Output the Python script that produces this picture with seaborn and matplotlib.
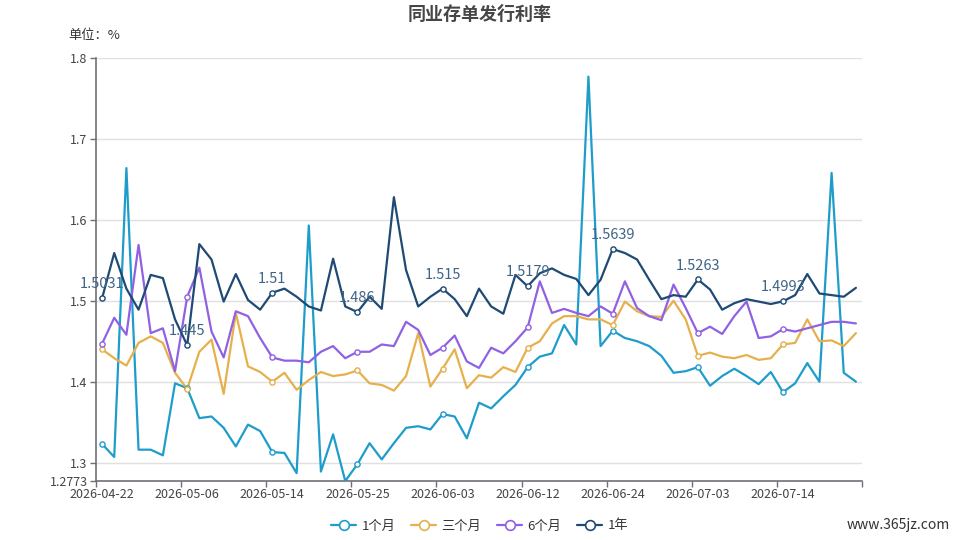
import matplotlib
matplotlib.use("Agg")
import matplotlib.pyplot as plt
from matplotlib.lines import Line2D
import seaborn as sns
import pandas as pd
import numpy as np

dates = [
    "2026-04-22", "2026-04-23", "2026-04-24", "2026-04-27", "2026-04-28", "2026-04-29", "2026-04-30",
    "2026-05-06", "2026-05-07", "2026-05-08", "2026-05-09", "2026-05-11", "2026-05-12", "2026-05-13",
    "2026-05-14", "2026-05-15", "2026-05-18", "2026-05-19", "2026-05-20", "2026-05-21", "2026-05-22",
    "2026-05-25", "2026-05-26", "2026-05-27", "2026-05-28", "2026-05-29", "2026-06-01", "2026-06-02",
    "2026-06-03", "2026-06-04", "2026-06-05", "2026-06-08", "2026-06-09", "2026-06-10", "2026-06-11",
    "2026-06-12", "2026-06-15", "2026-06-16", "2026-06-17", "2026-06-18", "2026-06-22", "2026-06-23",
    "2026-06-24", "2026-06-25", "2026-06-26", "2026-06-29", "2026-06-30", "2026-07-01", "2026-07-02",
    "2026-07-03", "2026-07-06", "2026-07-07", "2026-07-08", "2026-07-09", "2026-07-10", "2026-07-13",
    "2026-07-14", "2026-07-15", "2026-07-16", "2026-07-17", "2026-07-20", "2026-07-21", "2026-07-22",
]

m1 = [1.323, 1.307, 1.664, 1.316, 1.316, 1.309, 1.398, 1.392, 1.355, 1.357,
      1.343, 1.320, 1.347, 1.339, 1.313, 1.312, 1.287, 1.593, 1.289, 1.335,
      1.2773, 1.298, 1.324, 1.304, 1.324, 1.343, 1.345, 1.341, 1.360, 1.357,
      1.330, 1.374, 1.367, 1.382, 1.396, 1.418, 1.431, 1.435, 1.470, 1.446,
      1.777, 1.444, 1.463, 1.454, 1.450, 1.444, 1.432, 1.411, 1.413, 1.418,
      1.395, 1.407, 1.416, 1.407, 1.397, 1.412, 1.387, 1.398, 1.423, 1.400,
      1.658, 1.411, 1.400]

m3 = [1.440, 1.429, 1.420, 1.448, 1.456, 1.448, 1.411, 1.391, 1.437, 1.452,
      1.385, 1.485, 1.419, 1.412, 1.400, 1.411, 1.390, 1.402, 1.412, 1.407,
      1.409, 1.414, 1.398, 1.396, 1.389, 1.407, 1.460, 1.394, 1.416, 1.440,
      1.392, 1.408, 1.405, 1.418, 1.412, 1.442, 1.450, 1.472, 1.481, 1.481,
      1.477, 1.477, 1.470, 1.499, 1.487, 1.481, 1.480, 1.500, 1.477, 1.432,
      1.436, 1.431, 1.429, 1.433, 1.427, 1.429, 1.446, 1.448, 1.477, 1.450,
      1.451, 1.444, 1.460]

m6 = [1.447, 1.479, 1.458, 1.569, 1.460, 1.466, 1.413, 1.505, 1.541, 1.462,
      1.430, 1.487, 1.481, 1.454, 1.430, 1.426, 1.426, 1.424, 1.437, 1.444,
      1.429, 1.437, 1.437, 1.446, 1.444, 1.474, 1.464, 1.433, 1.442, 1.457,
      1.425, 1.417, 1.442, 1.435, 1.450, 1.467, 1.524, 1.485, 1.490, 1.485,
      1.481, 1.493, 1.484, 1.524, 1.491, 1.481, 1.476, 1.520, 1.491, 1.460,
      1.468, 1.459, 1.481, 1.499, 1.454, 1.456, 1.465, 1.462, 1.466, 1.470,
      1.474, 1.474, 1.472]

y1 = [1.5031, 1.559, 1.515, 1.489, 1.532, 1.528, 1.477, 1.445, 1.570, 1.551,
      1.499, 1.533, 1.501, 1.489, 1.510, 1.515, 1.505, 1.493, 1.488, 1.552,
      1.493, 1.486, 1.505, 1.490, 1.628, 1.538, 1.493, 1.505, 1.515, 1.502,
      1.481, 1.515, 1.493, 1.484, 1.532, 1.5179, 1.534, 1.540, 1.532, 1.527,
      1.507, 1.526, 1.5639, 1.559, 1.551, 1.526, 1.502, 1.507, 1.505, 1.5263,
      1.514, 1.489, 1.497, 1.502, 1.499, 1.496, 1.4993, 1.507, 1.533, 1.509,
      1.507, 1.505, 1.516]

series_names = ["1个月", "三个月", "6个月", "1年"]
series_values = [m1, m3, m6, y1]
colors = ["#1e9dcb", "#e6b04c", "#9061e3", "#1f4a74"]
y_ticks = [1.2773, 1.3, 1.4, 1.5, 1.6, 1.7, 1.8]
title = "同业存单发行利率"
unit_label = "单位：%"
label_every = 7

sns.set_theme(style="white")
plt.rcParams["font.family"] = ["Noto Sans CJK SC", "DejaVu Sans"]

rows = []
for name, vals in zip(series_names, series_values):
    for i, (d, v) in enumerate(zip(dates, vals)):
        rows.append({"idx": i, "date": d, "series": name, "value": v})
df = pd.DataFrame(rows)

fig = plt.figure(figsize=(9.59, 5.40), dpi=100)
ax = fig.add_axes([96 / 959, 1 - 481 / 540, (862 - 96) / 959, (481 - 58) / 540])

palette = dict(zip(series_names, colors))
sns.lineplot(data=df, x="idx", y="value", hue="series", palette=palette,
             hue_order=series_names, linewidth=1.6, legend=False, ax=ax, zorder=3)

mk = df[df["idx"] % label_every == 0]
for name in series_names:
    sub = mk[mk["series"] == name]
    ax.scatter(sub["idx"], sub["value"], s=14, facecolor="white",
               edgecolor=palette[name], linewidth=1.0, zorder=4)

# labels on 1年 series at marker points
sub = mk[mk["series"] == "1年"]
for _, r in sub.iterrows():
    txt = f"{r['value']:.4f}".rstrip("0").rstrip(".")
    ax.annotate(txt, (r["idx"], r["value"]), xytext=(0, 5), textcoords="offset points",
                ha="center", va="bottom", fontsize=10.5, color="#3f6488", zorder=5)

n = len(dates)
ax.set_xlim(-0.5, n - 0.5)
ax.set_ylim(y_ticks[0], y_ticks[-1])
ax.set_yticks(y_ticks)
ax.set_yticklabels([f"{t:g}" for t in y_ticks])
for t in y_ticks[1:]:
    ax.axhline(t, color="#e0e0e0", linewidth=1.0, zorder=1)

label_pos = list(range(0, n, label_every))
ax.set_xticks(label_pos)
ax.set_xticklabels([dates[i] for i in label_pos])
ax.set_xticks([p - 0.5 for p in label_pos] + [n - 0.5], minor=True)
ax.tick_params(axis="x", which="major", length=0, pad=5, labelsize=9, labelcolor="#444444")
ax.tick_params(axis="x", which="minor", length=4, color="#6e7079", width=1, direction="out", bottom=True)
ax.tick_params(axis="y", which="major", length=4, color="#6e7079", width=1, direction="out",
               left=True, labelsize=9, labelcolor="#444444", pad=2)
ax.set_xlabel("")
ax.set_ylabel("")
for s in ["top", "right"]:
    ax.spines[s].set_visible(False)
ax.spines["left"].set_color("#6e7079")
ax.spines["bottom"].set_color("#6e7079")
ax.spines["left"].set_linewidth(1.2)
ax.spines["bottom"].set_linewidth(1.2)

fig.text(480 / 959, 1 - 14 / 540, title, ha="center", va="center", fontsize=13,
         fontweight="bold", color="#464646")
fig.text(68 / 959, 1 - 35 / 540, unit_label, ha="left", va="center", fontsize=9.5, color="#333333")

handles = [Line2D([0], [0], color=c, linewidth=1.6, marker="o", markersize=7,
                  markerfacecolor="white", markeredgecolor=c, markeredgewidth=1.2)
           for c in colors]
fig.legend(handles, series_names, loc="center", bbox_to_anchor=(0.5, 1 - 526 / 540), ncol=4,
           frameon=False, fontsize=9.5, handlelength=1.9, columnspacing=1.2, handletextpad=0.4,
           labelcolor="#333333")

fig.text(950 / 959, 1 - 525 / 540, "www.365jz.com", ha="right", va="center", fontsize=10,
         color="#333333")

fig.savefig("out.png", dpi=100)
